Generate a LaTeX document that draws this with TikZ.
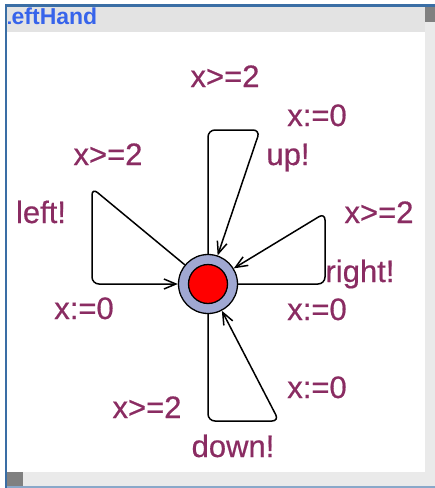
\documentclass[tikz,border=0pt]{standalone}
\usepackage{fontspec}
\usetikzlibrary{arrows.meta}
\newfontfamily\lblfont[FakeBold=0.5]{Liberation Sans}
\newfontfamily\titlefont{Liberation Sans}
\definecolor{lblcol}{RGB}{138,44,98}
\definecolor{ringcol}{RGB}{160,168,210}
\definecolor{framecol}{RGB}{58,110,165}
\definecolor{titlecol}{RGB}{55,100,235}
\definecolor{barcol}{RGB}{227,227,227}
\definecolor{trackcol}{RGB}{234,234,234}
\definecolor{thumbcol}{RGB}{128,128,128}

\begin{document}
\begin{tikzpicture}[
  x=1pt,y=-1pt,
  loc/.style={circle,draw,line width=1.3pt,fill=ringcol,minimum size=59pt,inner sep=0pt},
  core/.style={circle,draw,line width=1.3pt,fill=red,minimum size=39pt,inner sep=0pt},
  trans/.style={draw,line width=1.5pt,rounded corners=7pt,-{Straight Barb[length=12pt,width=10pt]}},
  lbl/.style={anchor=base,inner sep=0pt,text=lblcol,font=\lblfont\fontsize{31}{31}\selectfont}
]
\useasboundingbox (0,0) rectangle (435,488);
% window
\fill[white] (0,0) rectangle (435,488);
\fill[barcol] (7,7) rectangle (425,32);
\fill[trackcol] (425,7) rectangle (435,486);
\fill[trackcol] (7,472) rectangle (435,486);
\fill[thumbcol] (425,7) rectangle (435,22);
\fill[thumbcol] (7,472) rectangle (23,486);
\fill[framecol] (5,4) rectangle (435,7);
\fill[framecol] (5,4) rectangle (7,488);
\fill[framecol!60] (7,486) rectangle (435,488);
\begin{scope}
\clip (8,7) rectangle (425,32);
\node[anchor=base west,inner sep=0pt,text=titlecol,font=\titlefont\bfseries\fontsize{23}{23}\selectfont] (title) at (-2.6,24) {LeftHand};
\end{scope}
% location
\node[loc] (init) at (208,284) {};
\node[core] (initcore) at (init) {};
% nails
\coordinate (u1) at (208,130);
\coordinate (u2) at (260,130);
\coordinate (l1) at (92,188);
\coordinate (l2) at (92,284);
\coordinate (r1) at (325,284);
\coordinate (r2) at (325,213);
\coordinate (d1) at (208,421);
\coordinate (d2) at (279,421);
% edges
\draw[trans] (init) -- (u1) -- (u2) -- (init);
\draw[trans] (init) -- (l1) -- (l2) -- (init);
\draw[trans] (init) -- (r1) -- (r2) -- (init);
\draw[trans] (init) -- (d1) -- (d2) -- (init);
% labels
\node[lbl] (upg) at (225,87) {x>=2};
\node[lbl] (upa) at (317,126) {x:=0};
\node[lbl] (ups) at (288,165) {up!};
\node[lbl] (leftg) at (108,165) {x>=2};
\node[lbl] (lefts) at (41,223) {left!};
\node[lbl] (lefta) at (84,319) {x:=0};
\node[lbl] (rightg) at (379,223) {x>=2};
\node[lbl] (rights) at (360,282) {right!};
\node[lbl] (righta) at (317,320) {x:=0};
\node[lbl] (downg) at (147,418) {x>=2};
\node[lbl] (downa) at (317,398) {x:=0};
\node[lbl] (downs) at (233,457) {down!};
\end{tikzpicture}
\end{document}
